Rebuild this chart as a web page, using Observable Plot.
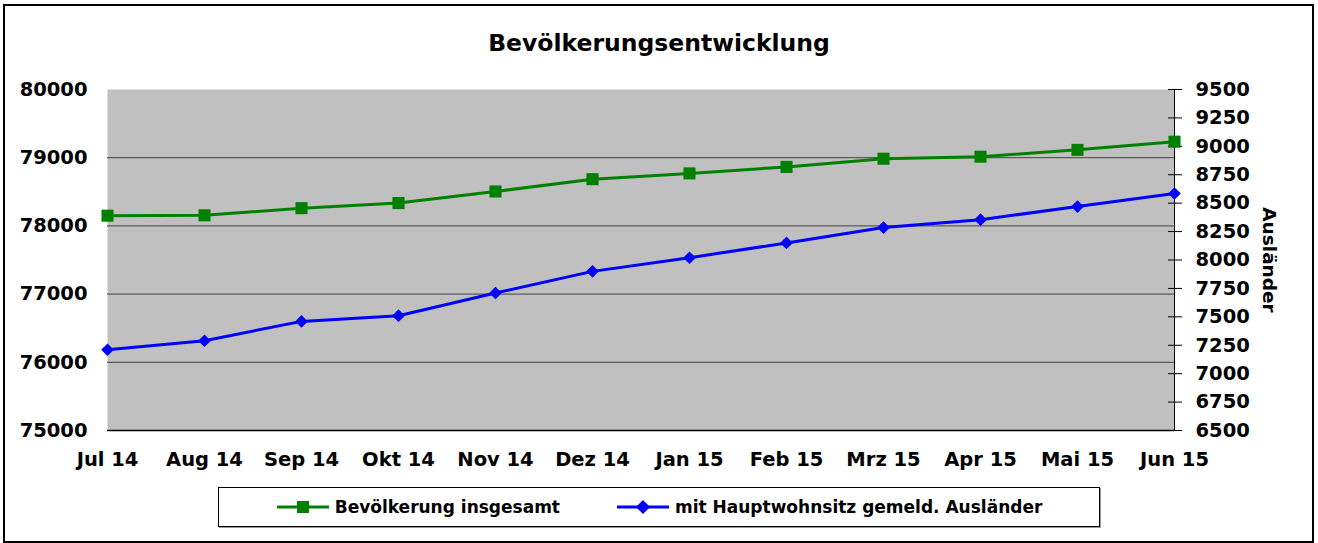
<!DOCTYPE html>
<html>
<head>
<meta charset="utf-8">
<script src="https://cdn.jsdelivr.net/npm/d3@7"></script>
<script src="https://cdn.jsdelivr.net/npm/@observablehq/plot@0.6"></script>
<style>
  html, body { margin: 0; padding: 0; background: #fff; }
  #wrap { position: relative; width: 1318px; height: 543px; font-family: "DejaVu Sans", sans-serif; font-weight: bold; color: #000; }
  #border { position: absolute; left: 3px; top: 4px; width: 1311px; height: 539px; box-sizing: border-box; border: 2px solid #000; }
  #title { position: absolute; left: 0; top: 29px; width: 1318px; text-align: center; font-size: 23.5px; line-height: 28px; }
  #chart { position: absolute; left: 0; top: 0; }
  #legend { position: absolute; left: 218px; top: 487px; width: 882px; height: 40px; box-sizing: border-box; border: 1px solid #000; box-shadow: 1px 1px 0 #999; display: flex; align-items: center; justify-content: center; font-size: 17px; }
  .item { display: flex; align-items: center; }
  .item svg { margin-right: 5px; }
</style>
</head>
<body>
<div id="wrap">
  <div id="border"></div>
  <div id="chart"></div>
  <div id="title">Bevölkerungsentwicklung</div>
  <div id="legend"></div>
</div>
<script>
const months = ["Jul 14","Aug 14","Sep 14","Okt 14","Nov 14","Dez 14","Jan 15","Feb 15","Mrz 15","Apr 15","Mai 15","Jun 15"];
const gesamt = [78150, 78155, 78260, 78335, 78505, 78685, 78770, 78865, 78985, 79015, 79115, 79235];
const auslaender = [7210, 7290, 7460, 7510, 7710, 7900, 8020, 8150, 8285, 8355, 8470, 8585];
const leftTicks = [75000, 76000, 77000, 78000, 79000, 80000];
const gridTicks = [76000, 77000, 78000, 79000];
const rightTicks = [6500, 6750, 7000, 7250, 7500, 7750, 8000, 8250, 8500, 8750, 9000, 9250, 9500];
const seriesNames = ["Bevölkerung insgesamt", "mit Hauptwohnsitz gemeld. Ausländer"];
const colors = ["#008000", "#0000ff"];

// map right-axis values onto the left scale
const L0 = 75000, L1 = 80000, R0 = 6500, R1 = 9500;
const toLeft = v => L0 + (v - R0) * (L1 - L0) / (R1 - R0);
const toRight = v => R0 + (v - L0) * (R1 - R0) / (L1 - L0);

const dataG = months.map((m, i) => ({month: m, value: gesamt[i]}));
const dataA = months.map((m, i) => ({month: m, value: toLeft(auslaender[i])}));

const chart = Plot.plot({
  width: 1318,
  height: 480,
  marginLeft: 107,
  marginRight: 144,
  marginTop: 89,
  marginBottom: 50,
  style: {fontFamily: "DejaVu Sans, sans-serif", fontSize: "19.5px", fontWeight: "bold", background: "transparent", color: "#000", overflow: "visible"},
  x: {type: "point", domain: months, padding: 0},
  y: {domain: [L0, L1]},
  marks: [
    Plot.frame({fill: "#c0c0c0", stroke: "none"}),
    Plot.ruleY(gridTicks, {stroke: "#404040", strokeWidth: 1}),
    Plot.ruleY([L0], {stroke: "#000", strokeWidth: 1.5}),
    Plot.ruleX([months[months.length - 1]], {stroke: "#000", strokeWidth: 1}),
    Plot.axisY({anchor: "left", ticks: leftTicks, tickSize: 0, tickPadding: 20, tickFormat: d => String(d), label: null}),
    Plot.axisY({anchor: "right", ticks: rightTicks.map(toLeft), tickSize: 14, dx: -7, tickPadding: 14, tickFormat: d => String(Math.round(toRight(d))), label: null}),
    Plot.axisX({anchor: "bottom", tickSize: 0, tickPadding: 22, label: null}),
    Plot.text(["Ausländer"], {frameAnchor: "right", text: d => d, rotate: 90, dx: 94, textAnchor: "middle", fontSize: 18.5}),
    Plot.line(dataG, {x: "month", y: "value", stroke: colors[0], strokeWidth: 3}),
    Plot.dot(dataG, {x: "month", y: "value", symbol: "square", r: 6.8, fill: colors[0], stroke: "none"}),
    Plot.line(dataA, {x: "month", y: "value", stroke: colors[1], strokeWidth: 3}),
    Plot.dot(dataA, {x: "month", y: "value", symbol: "diamond2", r: 5.7, fill: colors[1], stroke: "none"})
  ]
});
document.getElementById("chart").appendChild(chart);

// legend
const legend = document.getElementById("legend");
const swatches = [
  `<svg width="54" height="14"><line x1="1" y1="7" x2="53" y2="7" stroke="${colors[0]}" stroke-width="3"/><rect x="21" y="1" width="12" height="12" fill="${colors[0]}"/></svg>`,
  `<svg width="54" height="14"><line x1="1" y1="7" x2="53" y2="7" stroke="${colors[1]}" stroke-width="3"/><path d="M27,0 L34,7 L27,14 L20,7 Z" fill="${colors[1]}"/></svg>`
];
seriesNames.forEach((name, i) => {
  const item = document.createElement("div");
  item.className = "item";
  if (i > 0) item.style.marginLeft = "56px";
  item.innerHTML = swatches[i];
  const span = document.createElement("span");
  span.textContent = name;
  item.appendChild(span);
  legend.appendChild(item);
});
</script>
</body>
</html>
